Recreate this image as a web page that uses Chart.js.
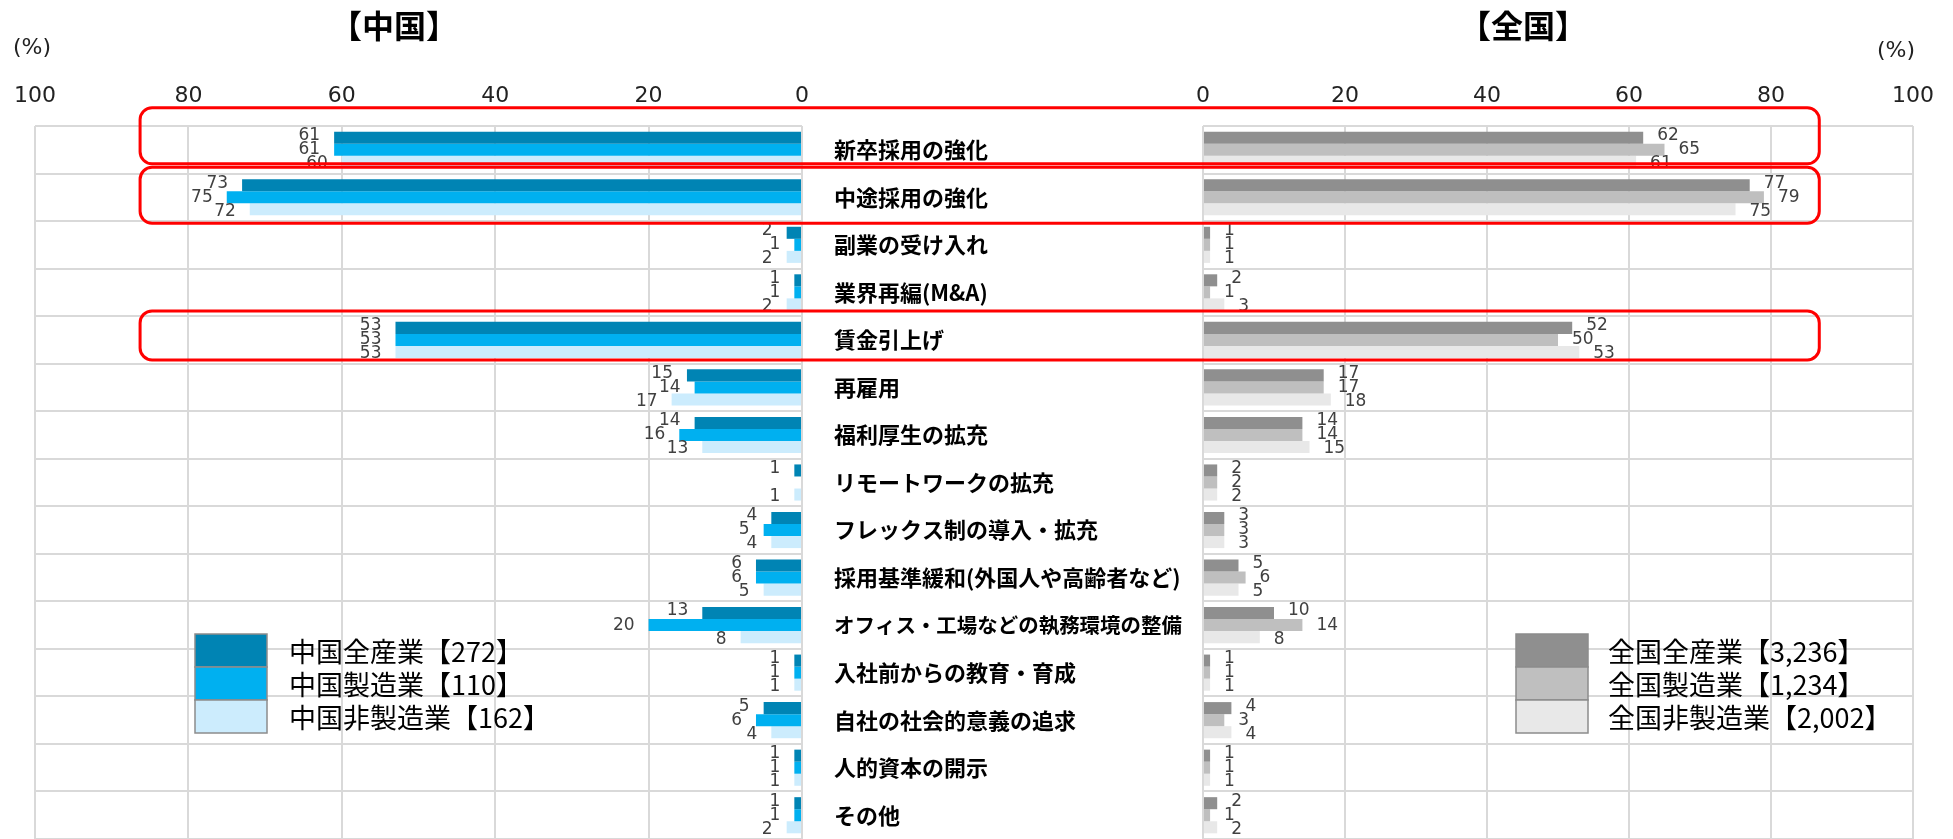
<!DOCTYPE html>
<html lang="ja">
<head>
<meta charset="utf-8">
<script src="https://cdn.jsdelivr.net/npm/chart.js@4.4.0/dist/chart.umd.min.js"></script>
<style>
  html, body { margin: 0; padding: 0; background: #fff; }
  #wrap { position: relative; width: 1953px; height: 839px; overflow: hidden; background: #fff; }
  #left { position: absolute; left: 0; top: 0; }
  #right { position: absolute; left: 820px; top: 0; }
  #marks { position: absolute; left: 0; top: 0; pointer-events: none; }
  .ttl { position: absolute; top: 8px; transform: translateX(-50%); font-family: "Noto Sans CJK JP"; font-weight: 700; font-size: 32px; line-height: 1; color: #000; }
  .pct { position: absolute; font-family: "DejaVu Sans"; font-size: 22px; line-height: 1; color: #222; }
</style>
</head>
<body>
<div id="wrap">
  <canvas id="left" width="820" height="839"></canvas>
  <canvas id="right" width="1133" height="839"></canvas>
  <canvas id="marks" width="1953" height="839"></canvas>
  <div class="ttl" style="left:394px">【中国】</div>
  <div class="ttl" style="left:1523px">【全国】</div>
  <div class="pct" style="left:13px; top:36px">(%)</div>
  <div class="pct" style="left:1877px; top:39px">(%)</div>
</div>
<script>
// categories (top to bottom)
const categories = [
  "新卒採用の強化",
  "中途採用の強化",
  "副業の受け入れ",
  "業界再編(M&A)",
  "賃金引上げ",
  "再雇用",
  "福利厚生の拡充",
  "リモートワークの拡充",
  "フレックス制の導入・拡充",
  "採用基準緩和(外国人や高齢者など)",
  "オフィス・工場などの執務環境の整備",
  "入社前からの教育・育成",
  "自社の社会的意義の追求",
  "人的資本の開示",
  "その他"
];

// 中国 (%)
const chugokuAll    = [61, 73, 2, 1, 53, 15, 14, 1, 4, 6, 13, 1, 5, 1, 1];
const chugokuMfg    = [61, 75, 1, 1, 53, 14, 16, 0, 5, 6, 20, 1, 6, 1, 1];
const chugokuNonMfg = [60, 72, 2, 2, 53, 17, 13, 1, 4, 5, 8, 1, 4, 1, 2];

// 全国 (%)
const zenkokuAll    = [62, 77, 1, 2, 52, 17, 14, 2, 3, 5, 10, 1, 4, 1, 2];
const zenkokuMfg    = [65, 79, 1, 1, 50, 17, 14, 2, 3, 6, 14, 1, 3, 1, 1];
const zenkokuNonMfg = [61, 75, 1, 3, 53, 18, 15, 2, 3, 5, 8, 1, 4, 1, 2];

const chugokuNames = ["中国全産業【272】", "中国製造業【110】", "中国非製造業【162】"];
const zenkokuNames = ["全国全産業【3,236】", "全国製造業【1,234】", "全国非製造業【2,002】"];

const xTicks = [0, 20, 40, 60, 80, 100];

// rows framed in red
const highlighted = [0, 1, 4];

const chugokuColors = ["#0084b4", "#00b0f0", "#ccecfd"];
const zenkokuColors = ["#8f8f8f", "#bfbfbf", "#e8e8e8"];
const gridColor = "#d9d9d9";

// shrink the odd long category label so it stays clear of the bars
const measureCtx = document.createElement("canvas").getContext("2d");
function catFontSize(text) {
  measureCtx.font = 'bold 22px "Noto Sans CJK JP"';
  const w = measureCtx.measureText(text).width;
  return Math.min(22, 22 * 348 / w);
}

// value labels at bar ends
const barLabels = {
  id: "barLabels",
  afterDatasetsDraw(chart) {
    const ctx = chart.ctx;
    const dir = chart.options.scales.x.reverse ? -1 : 1;
    ctx.save();
    ctx.font = '17px "DejaVu Sans"';
    ctx.fillStyle = "#404040";
    ctx.textBaseline = "middle";
    ctx.textAlign = dir < 0 ? "right" : "left";
    chart.data.datasets.forEach((ds, i) => {
      chart.getDatasetMeta(i).data.forEach((bar, j) => {
        const v = ds.data[j];
        if (!v) return;
        ctx.fillText(String(v), bar.x + dir * 14, bar.y + (i - 1) * 2);
      });
    });
    ctx.restore();
  }
};

// stacked swatch legend
const boxLegend = {
  id: "boxLegend",
  afterDraw(chart, args, o) {
    const ctx = chart.ctx;
    ctx.save();
    chart.data.datasets.forEach((ds, i) => {
      const y = o.top + i * o.rowH;
      ctx.fillStyle = ds.backgroundColor;
      ctx.fillRect(o.left, y, o.boxW, o.rowH);
      ctx.strokeStyle = "#8c8c8c";
      ctx.lineWidth = 1.5;
      ctx.strokeRect(o.left, y, o.boxW, o.rowH);
      ctx.fillStyle = "#000";
      ctx.font = '27px "Noto Sans CJK JP"';
      ctx.textBaseline = "middle";
      ctx.textAlign = "left";
      ctx.fillText(ds.label, o.textX, y + o.rowH / 2 + 1);
    });
    ctx.restore();
  }
};

function makeDatasets(series, names, colors) {
  return series.map((d, i) => ({
    label: names[i],
    data: d,
    backgroundColor: colors[i],
    borderWidth: 0,
    categoryPercentage: 0.76,
    barPercentage: 1.0
  }));
}

function noEdgePadding(s) {
  s.paddingTop = 0;
  s.paddingBottom = 0;
}

function xScale(reverse) {
  return {
    type: "linear",
    position: "top",
    reverse: reverse,
    min: 0,
    max: 100,
    afterBuildTicks: (s) => { s.ticks = xTicks.map((v) => ({ value: v })); },
    afterFit: (s) => { s.height = 47; noEdgePadding(s); },
    grid: { color: gridColor, lineWidth: 2, drawTicks: false },
    border: { display: false },
    ticks: {
      padding: 17,
      maxRotation: 0,
      autoSkip: false,
      color: "#222",
      font: { family: "DejaVu Sans", size: 22 }
    }
  };
}

const leftChart = new Chart(document.getElementById("left"), {
  type: "bar",
  data: {
    labels: categories,
    datasets: makeDatasets([chugokuAll, chugokuMfg, chugokuNonMfg], chugokuNames, chugokuColors)
  },
  options: {
    indexAxis: "y",
    responsive: false,
    animation: false,
    devicePixelRatio: 1,
    layout: { padding: { top: 79, left: 35, right: 18, bottom: 0 } },
    scales: {
      x: xScale(true),
      y: {
        position: "right",
        afterFit: (s) => { s.width = 0; noEdgePadding(s); },
        grid: { color: gridColor, lineWidth: 2, drawTicks: false, offset: true },
        border: { display: false },
        ticks: { display: false }
      }
    },
    plugins: {
      legend: { display: false },
      tooltip: { enabled: false },
      boxLegend: { left: 195, top: 634, boxW: 72, rowH: 33, textX: 289 }
    }
  },
  plugins: [barLabels, boxLegend]
});

const rightChart = new Chart(document.getElementById("right"), {
  type: "bar",
  data: {
    labels: categories,
    datasets: makeDatasets([zenkokuAll, zenkokuMfg, zenkokuNonMfg], zenkokuNames, zenkokuColors)
  },
  options: {
    indexAxis: "y",
    responsive: false,
    animation: false,
    devicePixelRatio: 1,
    layout: { padding: { top: 79, left: 14, right: 40, bottom: 0 } },
    scales: {
      x: xScale(false),
      y: {
        position: "left",
        afterFit: (s) => { s.width = 369; noEdgePadding(s); },
        grid: { color: gridColor, lineWidth: 2, drawTicks: false, offset: true },
        border: { display: false },
        ticks: {
          crossAlign: "far",
          padding: 0,
          color: "#000",
          autoSkip: false,
          font: (c) => ({
            family: "Noto Sans CJK JP",
            size: catFontSize(categories[c.index] || ""),
            weight: "bold"
          })
        }
      }
    },
    plugins: {
      legend: { display: false },
      tooltip: { enabled: false },
      boxLegend: { left: 696, top: 634, boxW: 72, rowH: 33, textX: 788 }
    }
  },
  plugins: [barLabels, boxLegend]
});

// red rounded frames across both panels
(function drawFrames() {
  const ctx = document.getElementById("marks").getContext("2d");
  const ys = leftChart.scales.y;
  const band = (ys.bottom - ys.top) / categories.length;
  const x0 = leftChart.scales.x.getPixelForValue(86.3);
  const x1 = 820 + rightChart.scales.x.getPixelForValue(86.8);
  const extents = { 0: [-42, 14], 1: [-30, 26], 4: [-29, 20] };
  ctx.strokeStyle = "#ff0000";
  ctx.lineWidth = 3;
  highlighted.forEach((row) => {
    const c = ys.getPixelForValue(row);
    const e = extents[row] || [-band / 2, band / 2];
    ctx.beginPath();
    ctx.roundRect(x0, c + e[0], x1 - x0, e[1] - e[0], 12);
    ctx.stroke();
  });
})();
</script>
</body>
</html>
